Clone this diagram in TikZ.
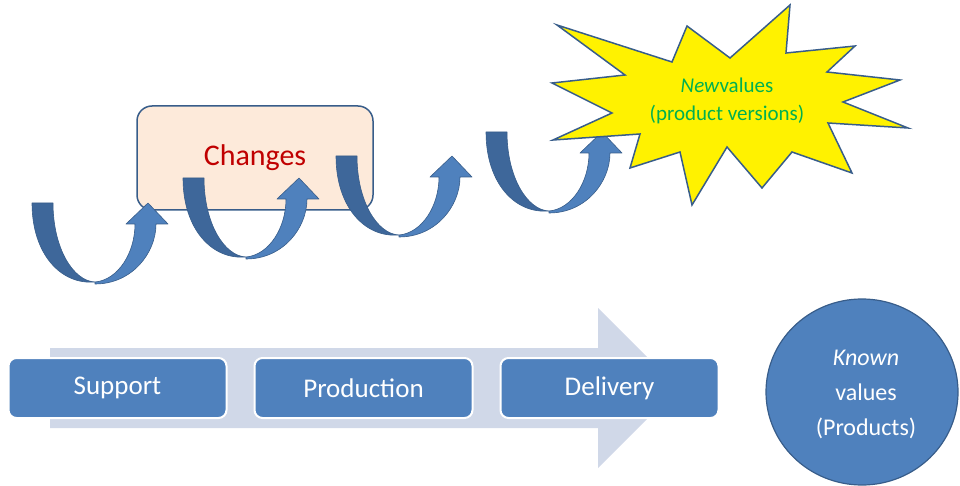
\documentclass[tikz,border=0pt]{standalone}
\usepackage{fontspec}
\setmainfont{Carlito}
\usepackage{tikz}
\usetikzlibrary{shapes.geometric, positioning}
\definecolor{stageblue}{RGB}{79,129,189}
\definecolor{edgeblue}{RGB}{56,93,138}
\definecolor{curldark}{RGB}{62,103,154}
\definecolor{flowgrey}{RGB}{208,216,232}
\definecolor{peach}{RGB}{253,234,218}
\definecolor{changered}{RGB}{192,0,0}
\definecolor{newgreen}{RGB}{0,176,80}
\tikzstyle{stage} = [rectangle, rounded corners=8pt, minimum width=218pt, minimum height=60pt, text centered, draw=white, line width=2pt, fill=stageblue, text=white, font=\fontsize{27}{30}\selectfont]
\tikzstyle{changebox} = [rectangle, rounded corners=15pt, minimum width=236pt, minimum height=104pt, draw=edgeblue, line width=1.5pt, fill=peach, text=changered, font=\fontsize{30}{33}\selectfont]
\tikzstyle{known} = [text=white, align=center, font=\fontsize{24}{35}\selectfont]
\tikzstyle{curl} = [draw=edgeblue, line width=0.6pt, line join=round]

\begin{document}
\begin{tikzpicture}[x=1pt, y=-1pt, node distance=246pt]
            \useasboundingbox (0,0) rectangle (960,486);

            % flow arrow behind the stages
            \fill [flowgrey] (50,348) -- (598,348) -- (598,308) -- (678,388) -- (598,468) -- (598,428) -- (50,428) -- cycle;

            \node (support) [stage] at (117.5,388) {Support};
            \node (production) [stage, right of=support] {Production};
            \node (delivery) [stage, right of=production] {Delivery};

            \node (changes) [changebox] at (255,158) {Changes};

            % curved arrows
            \foreach \x/\y in {32/203, 183/178, 336/156, 486/132}{
                \begin{scope}[shift={(\x,\y)}]
                    \filldraw [curl, fill=curldark] (0,0) -- (21,0) .. controls (21,45) and (41,78) .. (63,79) .. controls (28,82) and (0,50) .. (0,0) -- cycle;
                    \filldraw [curl, fill=stageblue] (63,81) .. controls (100,81) and (124,50) .. (124,21) -- (136,21) -- (116,0) -- (94,21) -- (103,21) .. controls (103,50) and (86,77) .. (63,79) -- cycle;
                \end{scope}
            }

            % star
            \filldraw [draw=edgeblue, line width=1.5pt, line join=miter, fill=yellow] (557,25) -- (672,62) -- (687,26) -- (730,58) -- (790,5) -- (786,53) -- (855,46) -- (827,72) -- (900,80) -- (843,102) -- (908,128) -- (828,123) -- (852,173) -- (792,152) -- (762,188) -- (727,147) -- (692,205) -- (680,152) -- (630,168) -- (640,134) -- (553,140) -- (612,113) -- (552,83) -- (625,75) -- cycle;
            \node (newval) [text=newgreen, align=center, font=\fontsize{21}{28}\selectfont] at (727,101) {\textit{New}values\\(product versions)};

            % known values
            \filldraw [draw=edgeblue, line width=1.2pt, fill=stageblue] (862,392) ellipse [x radius=96, y radius=93];
            \node (products) [known] at (866,394) {\textit{Known}\\values\\(Products)};
\end{tikzpicture}
\end{document}
